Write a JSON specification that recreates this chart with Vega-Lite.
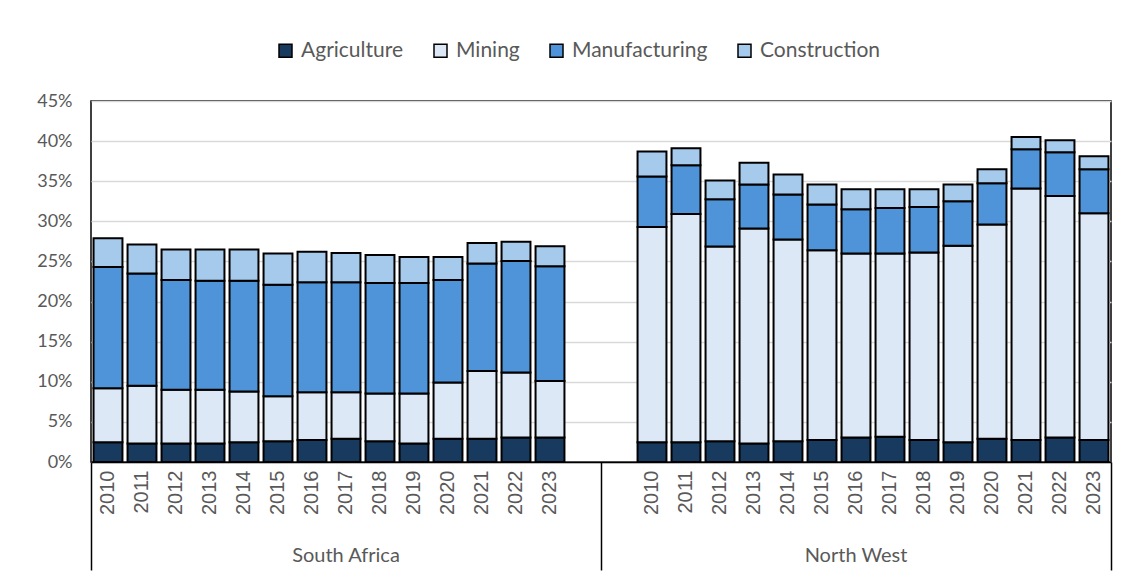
{
  "$schema": "https://vega.github.io/schema/vega-lite/v6.json",
  "width": 1020,
  "height": 361,
  "autosize": {"type": "none"},
  "padding": {"left": 91, "top": 101, "right": 25, "bottom": 118},
  "background": "white",
  "config": {
    "view": {"stroke": "black", "strokeWidth": 1.5},
    "font": "Lato"
  },
  "data": {
    "values": [
      {"cat": "SA|2010", "Agriculture": 2.45, "Mining": 6.75, "Manufacturing": 15.1, "Construction": 3.6},
      {"cat": "SA|2011", "Agriculture": 2.3, "Mining": 7.2, "Manufacturing": 14.0, "Construction": 3.6},
      {"cat": "SA|2012", "Agriculture": 2.3, "Mining": 6.7, "Manufacturing": 13.7, "Construction": 3.8},
      {"cat": "SA|2013", "Agriculture": 2.3, "Mining": 6.7, "Manufacturing": 13.6, "Construction": 3.9},
      {"cat": "SA|2014", "Agriculture": 2.45, "Mining": 6.35, "Manufacturing": 13.8, "Construction": 3.9},
      {"cat": "SA|2015", "Agriculture": 2.6, "Mining": 5.6, "Manufacturing": 13.9, "Construction": 3.9},
      {"cat": "SA|2016", "Agriculture": 2.75, "Mining": 5.95, "Manufacturing": 13.7, "Construction": 3.8},
      {"cat": "SA|2017", "Agriculture": 2.9, "Mining": 5.8, "Manufacturing": 13.7, "Construction": 3.65},
      {"cat": "SA|2018", "Agriculture": 2.6, "Mining": 5.95, "Manufacturing": 13.75, "Construction": 3.5},
      {"cat": "SA|2019", "Agriculture": 2.3, "Mining": 6.25, "Manufacturing": 13.75, "Construction": 3.25},
      {"cat": "SA|2020", "Agriculture": 2.9, "Mining": 7.0, "Manufacturing": 12.8, "Construction": 2.85},
      {"cat": "SA|2021", "Agriculture": 2.9, "Mining": 8.45, "Manufacturing": 13.4, "Construction": 2.55},
      {"cat": "SA|2022", "Agriculture": 3.05, "Mining": 8.1, "Manufacturing": 13.9, "Construction": 2.4},
      {"cat": "SA|2023", "Agriculture": 3.05, "Mining": 7.05, "Manufacturing": 14.3, "Construction": 2.5},
      {"cat": "NW|2010", "Agriculture": 2.45, "Mining": 26.85, "Manufacturing": 6.3, "Construction": 3.1},
      {"cat": "NW|2011", "Agriculture": 2.45, "Mining": 28.45, "Manufacturing": 6.1, "Construction": 2.1},
      {"cat": "NW|2012", "Agriculture": 2.6, "Mining": 24.25, "Manufacturing": 5.9, "Construction": 2.35},
      {"cat": "NW|2013", "Agriculture": 2.3, "Mining": 26.8, "Manufacturing": 5.5, "Construction": 2.7},
      {"cat": "NW|2014", "Agriculture": 2.6, "Mining": 25.15, "Manufacturing": 5.6, "Construction": 2.5},
      {"cat": "NW|2015", "Agriculture": 2.75, "Mining": 23.65, "Manufacturing": 5.7, "Construction": 2.5},
      {"cat": "NW|2016", "Agriculture": 3.05, "Mining": 22.95, "Manufacturing": 5.5, "Construction": 2.5},
      {"cat": "NW|2017", "Agriculture": 3.15, "Mining": 22.85, "Manufacturing": 5.65, "Construction": 2.35},
      {"cat": "NW|2018", "Agriculture": 2.75, "Mining": 23.35, "Manufacturing": 5.7, "Construction": 2.2},
      {"cat": "NW|2019", "Agriculture": 2.45, "Mining": 24.5, "Manufacturing": 5.55, "Construction": 2.1},
      {"cat": "NW|2020", "Agriculture": 2.9, "Mining": 26.7, "Manufacturing": 5.15, "Construction": 1.75},
      {"cat": "NW|2021", "Agriculture": 2.75, "Mining": 31.35, "Manufacturing": 4.9, "Construction": 1.5},
      {"cat": "NW|2022", "Agriculture": 3.05, "Mining": 30.1, "Manufacturing": 5.45, "Construction": 1.5},
      {"cat": "NW|2023", "Agriculture": 2.75, "Mining": 28.25, "Manufacturing": 5.5, "Construction": 1.6}
    ]
  },
  "transform": [
    {"fold": ["Agriculture", "Mining", "Manufacturing", "Construction"], "as": ["sector", "share"]},
    {"lookup": "sector", "from": {"data": {"values": [
      {"sector": "Agriculture", "rank": 1},
      {"sector": "Mining", "rank": 2},
      {"sector": "Manufacturing", "rank": 3},
      {"sector": "Construction", "rank": 4}
    ]}, "key": "sector", "fields": ["rank"]}}
  ],
  "resolve": {"axis": {"x": "independent"}},
  "layer": [
    {
      "mark": {"type": "bar", "stroke": "black", "strokeWidth": 2},
      "encoding": {
        "x": {
          "field": "cat", "type": "nominal",
          "scale": {"domain": ["SA|2010","SA|2011","SA|2012","SA|2013","SA|2014","SA|2015","SA|2016","SA|2017","SA|2018","SA|2019","SA|2020","SA|2021","SA|2022","SA|2023","SA|gap","NW|gap","NW|2010","NW|2011","NW|2012","NW|2013","NW|2014","NW|2015","NW|2016","NW|2017","NW|2018","NW|2019","NW|2020","NW|2021","NW|2022","NW|2023"], "paddingInner": 0.15, "paddingOuter": 0.075},
          "axis": {
            "orient": "bottom",
            "title": null, "labelAngle": -90, "labelPadding": 8, "labelFont": "Liberation Sans", "labelFontSize": 20,
            "labelColor": "#595959", "ticks": false, "domain": true, "domainColor": "black", "domainWidth": 1.5,
            "labelOverlap": false,
            "labelExpr": "indexof(datum.value, 'gap') >= 0 ? '' : slice(datum.value, 3)"
          }
        },
        "y": {
          "field": "share", "type": "quantitative", "stack": "zero",
          "scale": {"domain": [0, 45]},
          "axis": {
            "title": null, "values": [0,5,10,15,20,25,30,35,40,45], "labelExpr": "datum.value + '%'",
            "labelFontSize": 18, "labelColor": "#595959", "labelPadding": 19, "ticks": false, "domain": false,
            "grid": true, "gridColor": "#d9d9d9", "gridWidth": 1.5
          }
        },
        "order": {"field": "rank", "type": "quantitative", "sort": "ascending"},
        "color": {
          "field": "sector", "type": "nominal",
          "sort": ["Agriculture", "Mining", "Manufacturing", "Construction"],
          "scale": {"domain": ["Agriculture", "Mining", "Manufacturing", "Construction"], "range": ["#173a5e", "#dce8f5", "#4f94d8", "#a6caec"]},
          "legend": {
            "title": null, "orient": "none", "legendX": 184, "legendY": -61, "direction": "horizontal",
            "labelFontSize": 21, "labelColor": "#595959", "symbolType": "square", "symbolSize": 169,
            "symbolStrokeColor": "black", "symbolStrokeWidth": 1.5, "columnPadding": 26, "labelOffset": 5
          }
        }
      }
    },
    {
      "mark": {"type": "point", "opacity": 0},
      "encoding": {
        "x": {
          "field": "cat", "type": "nominal",
          "axis": {
            "orient": "bottom",
            "title": null, "values": ["SA|2017", "NW|2016"], "labelAngle": 0, "labelPadding": 83, "labelFontSize": 20,
            "labelColor": "#595959", "ticks": false, "domain": false, "labelOverlap": false,
            "labelExpr": "indexof(datum.value, 'SA') == 0 ? 'South Africa' : 'North West'"
          }
        }
      }
    },
    {
      "mark": {"type": "point", "opacity": 0},
      "encoding": {
        "x": {
          "field": "cat", "type": "nominal",
          "axis": {
            "orient": "bottom",
            "title": null, "values": ["SA|2010"], "bandPosition": 0, "tickOffset": -2.55, "labels": false,
            "ticks": true, "tickSize": 108, "tickColor": "black", "tickWidth": 1.5, "domain": false
          }
        }
      }
    },
    {
      "mark": {"type": "point", "opacity": 0},
      "encoding": {
        "x": {
          "field": "cat", "type": "nominal",
          "axis": {
            "orient": "bottom",
            "title": null, "values": ["SA|gap", "NW|2023"], "bandPosition": 0, "tickOffset": 31.45, "labels": false,
            "ticks": true, "tickSize": 108, "tickColor": "black", "tickWidth": 1.5, "domain": false
          }
        }
      }
    }
  ]
}
